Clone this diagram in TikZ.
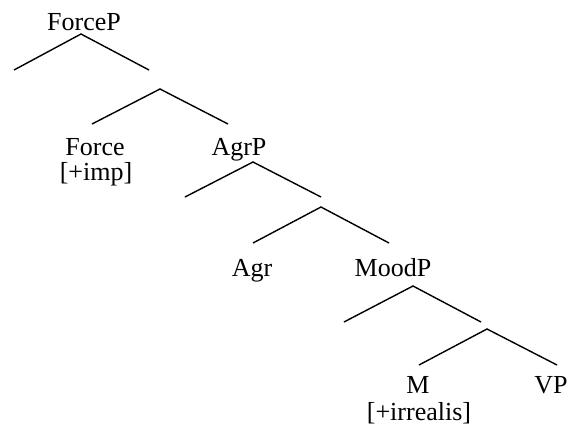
\documentclass[tikz,border=0pt]{standalone}
\usepackage{fontspec}
\setmainfont{Liberation Serif}
\begin{document}
\begin{tikzpicture}[x=1pt,y=-1pt,
  lab/.style={anchor=base,inner sep=0pt,font=\fontsize{26}{31}\selectfont},
  branch/.style={line width=1.4pt,line join=miter}]
\useasboundingbox (0,0) rectangle (571,437);
% labels
\node[lab] (forceP) at (84,30) {ForceP};
\node[lab] (force) at (95,155) {Force};
\node[lab] (imp) at (96,180) {[+imp]};
\node[lab] (agrP) at (239,155) {AgrP};
\node[lab] (agr) at (252,276) {Agr};
\node[lab] (moodP) at (393,276) {MoodP};
\node[lab] (m) at (418,393) {M};
\node[lab] (irr) at (419,420) {[+irrealis]};
\node[lab] (vp) at (551,393) {VP};
% branch points
\coordinate (a1) at (81,34);  \coordinate (a1l) at (14,70);  \coordinate (a1r) at (149,70);
\coordinate (a2) at (160,89); \coordinate (a2l) at (92,124); \coordinate (a2r) at (228,124);
\coordinate (b1) at (253,162); \coordinate (b1l) at (185,197); \coordinate (b1r) at (321,197);
\coordinate (b2) at (321,207); \coordinate (b2l) at (253,243); \coordinate (b2r) at (389,243);
\coordinate (c1) at (413,286); \coordinate (c1l) at (344,322); \coordinate (c1r) at (481,322);
\coordinate (c2) at (487,329); \coordinate (c2l) at (419,365); \coordinate (c2r) at (557,365);
\foreach \p in {a1,a2,b1,b2,c1,c2}{
  \draw[branch] (\p l) -- (\p) -- (\p r);
}
\end{tikzpicture}
\end{document}
